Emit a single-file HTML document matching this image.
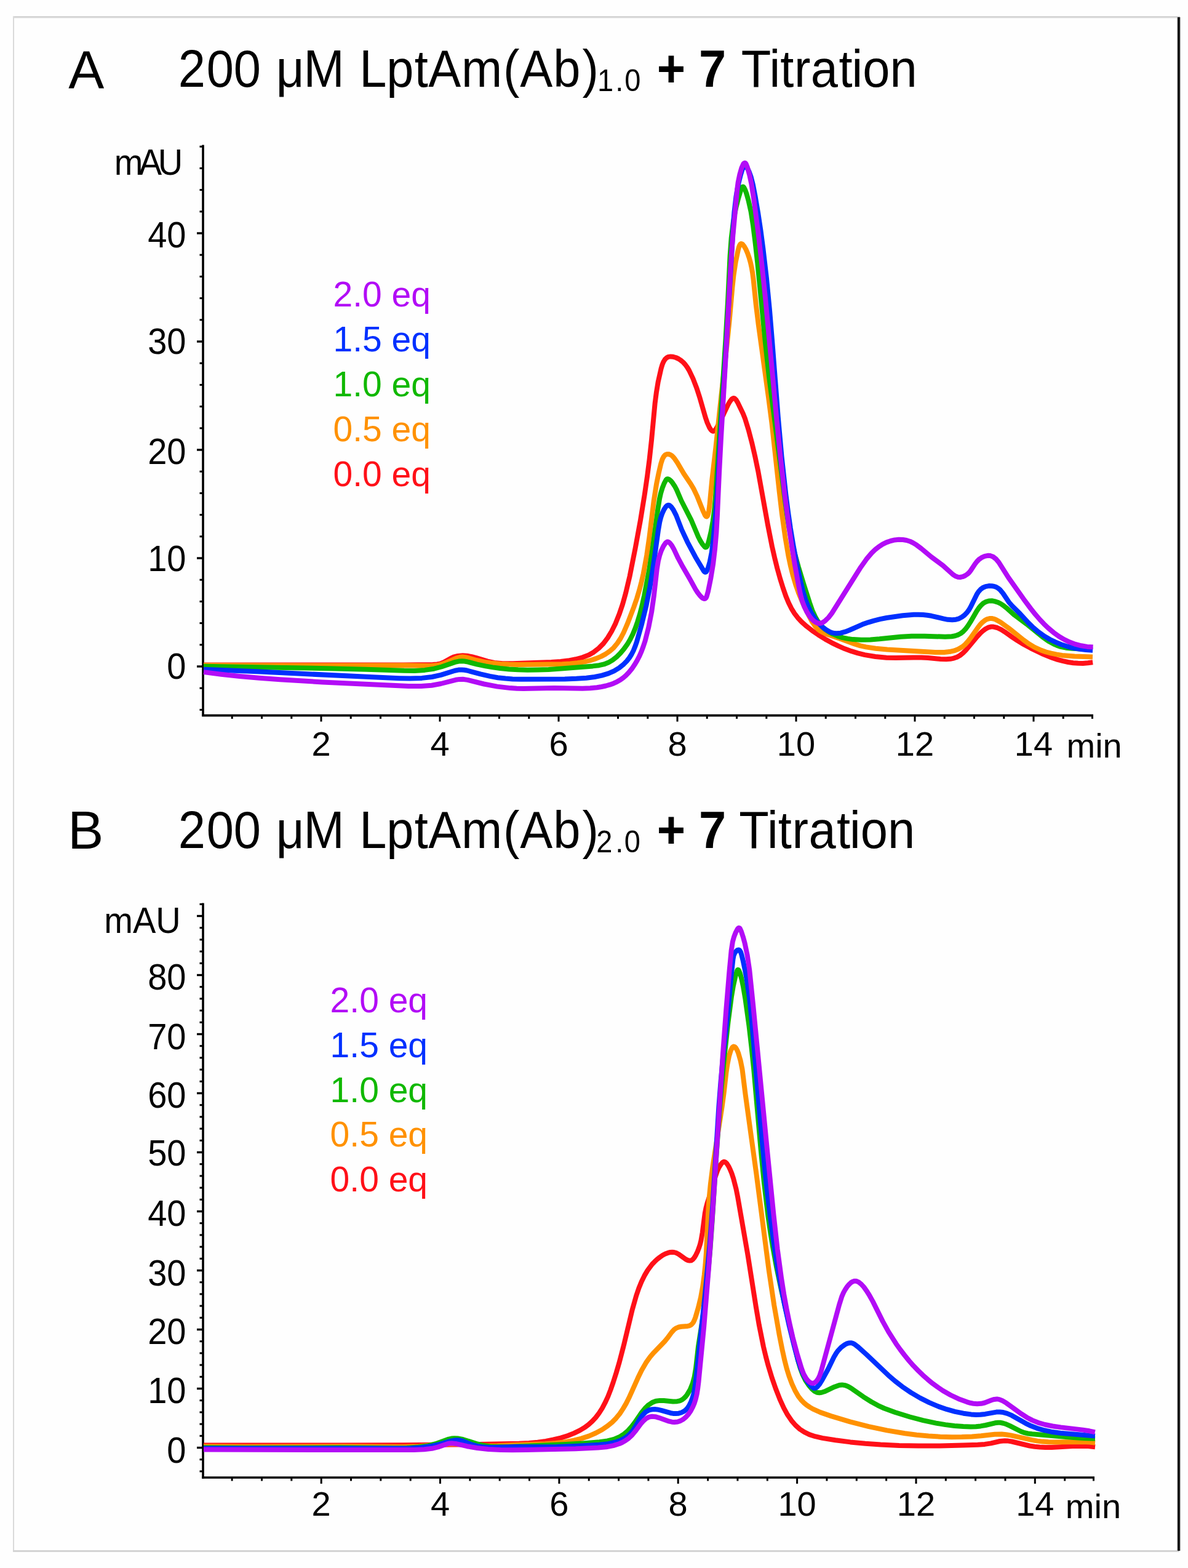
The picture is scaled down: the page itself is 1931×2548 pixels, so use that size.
<!DOCTYPE html>
<html><head><meta charset="utf-8"><style>
html,body{margin:0;padding:0;background:#fefefe;}
svg{display:block;}
text{font-family:"Liberation Sans",Arial,sans-serif;}
.t{font-size:85px;}
.sub{font-size:50px;}
.lab{font-size:56px;}
.leg{font-size:57px;}
</style></head><body>
<svg width="1931" height="2548" viewBox="0 0 1931 2548">
<rect x="0" y="0" width="1931" height="2548" fill="#fefefe"/>
<line x1="21" y1="27.5" x2="1918" y2="27.5" stroke="#c8c8c8" stroke-width="2"/>
<line x1="21" y1="29" x2="1918" y2="29" stroke="#dedede" stroke-width="1.2"/>
<line x1="22" y1="27" x2="22" y2="2522" stroke="#dadada" stroke-width="2"/>
<line x1="21" y1="2520.5" x2="1917" y2="2520.5" stroke="#d4d4d4" stroke-width="3"/>
<line x1="1916" y1="28" x2="1916" y2="2520" stroke="#6a6a6a" stroke-width="5"/><line x1="1916" y1="28" x2="1916" y2="2520" stroke="#000" stroke-width="2.8"/>
<g fill="#000">
<text x="111.3" y="144" font-size="87">A</text><g transform="scale(0.94,1)"><text x="308.3 357.2 403.9 457.4 477.5 525.0 595.7 621.6 668.4 716.8 740.6 797.8 870.3 899.3 956.7 1007.0" y="141.3" font-size="84.5">200 μM LptAm(Ab)</text><text x="1032.9 1064.2 1080.0" y="148.2" font-size="50">1.0</text><text x="1135.8 1186.2 1208.4" y="141.3" font-size="84.5" font-weight="bold">+ 7</text><text x="1281.7 1330.2 1349.3 1373.5 1402.0 1450.6 1472.9 1491.7 1538.8" y="141.3" font-size="84.5">Titration</text></g>
<text x="110.3" y="1379" font-size="87">B</text><g transform="scale(0.94,1)"><text x="308.3 357.2 403.9 457.4 477.5 525.0 595.7 621.6 668.4 716.8 740.6 797.8 870.3 899.3 956.7 1007.0" y="1377.8" font-size="84.5">200 μM LptAm(Ab)</text><text x="1031.1 1064.2 1079.4" y="1385.2" font-size="50">2.0</text><text x="1135.8 1186.2 1208.4" y="1377.8" font-size="84.5" font-weight="bold">+ 7</text><text x="1278.0 1326.5 1345.5 1369.8 1398.3 1446.9 1469.1 1487.9 1535.0" y="1377.8" font-size="84.5">Titration</text></g>
</g>
<g class="lab" fill="#000" font-size="57">
<text transform="translate(185.7 284.4) scale(1 1.045)" letter-spacing="-6.5">mAU</text>
<text transform="translate(169.3 1515.6) scale(1 1.045)">mAU</text>
<text transform="translate(302.5 1102.9) scale(1 1.045)" text-anchor="end">0</text>
<text transform="translate(302.5 928.4) scale(1 1.045)" text-anchor="end">10</text>
<text transform="translate(302.5 754.2) scale(1 1.045)" text-anchor="end">20</text>
<text transform="translate(302.5 574.9) scale(1 1.045)" text-anchor="end">30</text>
<text transform="translate(302.5 402.4) scale(1 1.045)" text-anchor="end">40</text>
<text transform="translate(302.5 2376.7) scale(1 1.045)" text-anchor="end">0</text>
<text transform="translate(302.5 2279.5) scale(1 1.045)" text-anchor="end">10</text>
<text transform="translate(302.5 2183.9) scale(1 1.045)" text-anchor="end">20</text>
<text transform="translate(302.5 2088.8) scale(1 1.045)" text-anchor="end">30</text>
<text transform="translate(302.5 1992.0) scale(1 1.045)" text-anchor="end">40</text>
<text transform="translate(302.5 1894.3) scale(1 1.045)" text-anchor="end">50</text>
<text transform="translate(302.5 1800.0) scale(1 1.045)" text-anchor="end">60</text>
<text transform="translate(302.5 1705.2) scale(1 1.045)" text-anchor="end">70</text>
<text transform="translate(302.5 1608.2) scale(1 1.045)" text-anchor="end">80</text>
<text x="522.0" y="1228" text-anchor="middle">2</text>
<text x="715.0" y="1228" text-anchor="middle">4</text>
<text x="908.0" y="1228" text-anchor="middle">6</text>
<text x="1101.0" y="1228" text-anchor="middle">8</text>
<text x="1294.0" y="1228" text-anchor="middle">10</text>
<text x="1487.0" y="1228" text-anchor="middle">12</text>
<text x="1680.0" y="1228" text-anchor="middle">14</text>
<text x="1733.5" y="1230.5">min</text>
<text x="522.2" y="2463" text-anchor="middle">2</text>
<text x="715.5" y="2463" text-anchor="middle">4</text>
<text x="908.9" y="2463" text-anchor="middle">6</text>
<text x="1102.2" y="2463" text-anchor="middle">8</text>
<text x="1295.6" y="2463" text-anchor="middle">10</text>
<text x="1489.0" y="2463" text-anchor="middle">12</text>
<text x="1682.3" y="2463" text-anchor="middle">14</text>
<text x="1731.8" y="2466.5">min</text>
</g>
<line x1="330" y1="235.5" x2="330" y2="1164.1" stroke="#000" stroke-width="3.6"/>
<line x1="328.2" y1="1162.6" x2="1777" y2="1162.6" stroke="#000" stroke-width="3.6"/>
<line x1="324.5" y1="1153.4" x2="330" y2="1153.4" stroke="#000" stroke-width="3"/>
<line x1="324.5" y1="1118.2" x2="330" y2="1118.2" stroke="#000" stroke-width="3"/>
<line x1="320" y1="1083.0" x2="330" y2="1083.0" stroke="#000" stroke-width="3.4"/>
<line x1="324.5" y1="1047.8" x2="330" y2="1047.8" stroke="#000" stroke-width="3"/>
<line x1="324.5" y1="1012.6" x2="330" y2="1012.6" stroke="#000" stroke-width="3"/>
<line x1="324.5" y1="977.4" x2="330" y2="977.4" stroke="#000" stroke-width="3"/>
<line x1="324.5" y1="942.2" x2="330" y2="942.2" stroke="#000" stroke-width="3"/>
<line x1="320" y1="907.0" x2="330" y2="907.0" stroke="#000" stroke-width="3.4"/>
<line x1="324.5" y1="871.8" x2="330" y2="871.8" stroke="#000" stroke-width="3"/>
<line x1="324.5" y1="836.6" x2="330" y2="836.6" stroke="#000" stroke-width="3"/>
<line x1="324.5" y1="801.4" x2="330" y2="801.4" stroke="#000" stroke-width="3"/>
<line x1="324.5" y1="766.2" x2="330" y2="766.2" stroke="#000" stroke-width="3"/>
<line x1="320" y1="731.0" x2="330" y2="731.0" stroke="#000" stroke-width="3.4"/>
<line x1="324.5" y1="695.8" x2="330" y2="695.8" stroke="#000" stroke-width="3"/>
<line x1="324.5" y1="660.6" x2="330" y2="660.6" stroke="#000" stroke-width="3"/>
<line x1="324.5" y1="625.4" x2="330" y2="625.4" stroke="#000" stroke-width="3"/>
<line x1="324.5" y1="590.2" x2="330" y2="590.2" stroke="#000" stroke-width="3"/>
<line x1="320" y1="555.0" x2="330" y2="555.0" stroke="#000" stroke-width="3.4"/>
<line x1="324.5" y1="519.8" x2="330" y2="519.8" stroke="#000" stroke-width="3"/>
<line x1="324.5" y1="484.6" x2="330" y2="484.6" stroke="#000" stroke-width="3"/>
<line x1="324.5" y1="449.4" x2="330" y2="449.4" stroke="#000" stroke-width="3"/>
<line x1="324.5" y1="414.2" x2="330" y2="414.2" stroke="#000" stroke-width="3"/>
<line x1="320" y1="379.0" x2="330" y2="379.0" stroke="#000" stroke-width="3.4"/>
<line x1="324.5" y1="343.8" x2="330" y2="343.8" stroke="#000" stroke-width="3"/>
<line x1="324.5" y1="308.6" x2="330" y2="308.6" stroke="#000" stroke-width="3"/>
<line x1="324.5" y1="273.4" x2="330" y2="273.4" stroke="#000" stroke-width="3"/>
<line x1="324.5" y1="238.2" x2="330" y2="238.2" stroke="#000" stroke-width="3"/>
<line x1="377.2" y1="1162.6" x2="377.2" y2="1168.1" stroke="#000" stroke-width="3"/>
<line x1="425.5" y1="1162.6" x2="425.5" y2="1168.1" stroke="#000" stroke-width="3"/>
<line x1="473.8" y1="1162.6" x2="473.8" y2="1168.1" stroke="#000" stroke-width="3"/>
<line x1="522.0" y1="1162.6" x2="522.0" y2="1172.6" stroke="#000" stroke-width="3"/>
<line x1="570.2" y1="1162.6" x2="570.2" y2="1168.1" stroke="#000" stroke-width="3"/>
<line x1="618.5" y1="1162.6" x2="618.5" y2="1168.1" stroke="#000" stroke-width="3"/>
<line x1="666.8" y1="1162.6" x2="666.8" y2="1168.1" stroke="#000" stroke-width="3"/>
<line x1="715.0" y1="1162.6" x2="715.0" y2="1172.6" stroke="#000" stroke-width="3"/>
<line x1="763.2" y1="1162.6" x2="763.2" y2="1168.1" stroke="#000" stroke-width="3"/>
<line x1="811.5" y1="1162.6" x2="811.5" y2="1168.1" stroke="#000" stroke-width="3"/>
<line x1="859.8" y1="1162.6" x2="859.8" y2="1168.1" stroke="#000" stroke-width="3"/>
<line x1="908.0" y1="1162.6" x2="908.0" y2="1172.6" stroke="#000" stroke-width="3"/>
<line x1="956.2" y1="1162.6" x2="956.2" y2="1168.1" stroke="#000" stroke-width="3"/>
<line x1="1004.5" y1="1162.6" x2="1004.5" y2="1168.1" stroke="#000" stroke-width="3"/>
<line x1="1052.8" y1="1162.6" x2="1052.8" y2="1168.1" stroke="#000" stroke-width="3"/>
<line x1="1101.0" y1="1162.6" x2="1101.0" y2="1172.6" stroke="#000" stroke-width="3"/>
<line x1="1149.2" y1="1162.6" x2="1149.2" y2="1168.1" stroke="#000" stroke-width="3"/>
<line x1="1197.5" y1="1162.6" x2="1197.5" y2="1168.1" stroke="#000" stroke-width="3"/>
<line x1="1245.8" y1="1162.6" x2="1245.8" y2="1168.1" stroke="#000" stroke-width="3"/>
<line x1="1294.0" y1="1162.6" x2="1294.0" y2="1172.6" stroke="#000" stroke-width="3"/>
<line x1="1342.2" y1="1162.6" x2="1342.2" y2="1168.1" stroke="#000" stroke-width="3"/>
<line x1="1390.5" y1="1162.6" x2="1390.5" y2="1168.1" stroke="#000" stroke-width="3"/>
<line x1="1438.8" y1="1162.6" x2="1438.8" y2="1168.1" stroke="#000" stroke-width="3"/>
<line x1="1487.0" y1="1162.6" x2="1487.0" y2="1172.6" stroke="#000" stroke-width="3"/>
<line x1="1535.2" y1="1162.6" x2="1535.2" y2="1168.1" stroke="#000" stroke-width="3"/>
<line x1="1583.5" y1="1162.6" x2="1583.5" y2="1168.1" stroke="#000" stroke-width="3"/>
<line x1="1631.8" y1="1162.6" x2="1631.8" y2="1168.1" stroke="#000" stroke-width="3"/>
<line x1="1680.0" y1="1162.6" x2="1680.0" y2="1172.6" stroke="#000" stroke-width="3"/>
<line x1="1728.2" y1="1162.6" x2="1728.2" y2="1168.1" stroke="#000" stroke-width="3"/>
<line x1="1775.5" y1="1162.6" x2="1775.5" y2="1168.1" stroke="#000" stroke-width="3"/>
<line x1="330" y1="1467.5" x2="330" y2="2402.5" stroke="#000" stroke-width="3.6"/>
<line x1="328.2" y1="2401" x2="1779" y2="2401" stroke="#000" stroke-width="3.6"/>
<line x1="324.5" y1="2390.9" x2="330" y2="2390.9" stroke="#000" stroke-width="3"/>
<line x1="324.5" y1="2371.7" x2="330" y2="2371.7" stroke="#000" stroke-width="3"/>
<line x1="320" y1="2352.5" x2="330" y2="2352.5" stroke="#000" stroke-width="3.4"/>
<line x1="324.5" y1="2333.3" x2="330" y2="2333.3" stroke="#000" stroke-width="3"/>
<line x1="324.5" y1="2314.1" x2="330" y2="2314.1" stroke="#000" stroke-width="3"/>
<line x1="324.5" y1="2294.9" x2="330" y2="2294.9" stroke="#000" stroke-width="3"/>
<line x1="324.5" y1="2275.7" x2="330" y2="2275.7" stroke="#000" stroke-width="3"/>
<line x1="320" y1="2256.5" x2="330" y2="2256.5" stroke="#000" stroke-width="3.4"/>
<line x1="324.5" y1="2237.3" x2="330" y2="2237.3" stroke="#000" stroke-width="3"/>
<line x1="324.5" y1="2218.1" x2="330" y2="2218.1" stroke="#000" stroke-width="3"/>
<line x1="324.5" y1="2198.9" x2="330" y2="2198.9" stroke="#000" stroke-width="3"/>
<line x1="324.5" y1="2179.7" x2="330" y2="2179.7" stroke="#000" stroke-width="3"/>
<line x1="320" y1="2160.5" x2="330" y2="2160.5" stroke="#000" stroke-width="3.4"/>
<line x1="324.5" y1="2141.3" x2="330" y2="2141.3" stroke="#000" stroke-width="3"/>
<line x1="324.5" y1="2122.1" x2="330" y2="2122.1" stroke="#000" stroke-width="3"/>
<line x1="324.5" y1="2102.9" x2="330" y2="2102.9" stroke="#000" stroke-width="3"/>
<line x1="324.5" y1="2083.7" x2="330" y2="2083.7" stroke="#000" stroke-width="3"/>
<line x1="320" y1="2064.5" x2="330" y2="2064.5" stroke="#000" stroke-width="3.4"/>
<line x1="324.5" y1="2045.3" x2="330" y2="2045.3" stroke="#000" stroke-width="3"/>
<line x1="324.5" y1="2026.1" x2="330" y2="2026.1" stroke="#000" stroke-width="3"/>
<line x1="324.5" y1="2006.9" x2="330" y2="2006.9" stroke="#000" stroke-width="3"/>
<line x1="324.5" y1="1987.7" x2="330" y2="1987.7" stroke="#000" stroke-width="3"/>
<line x1="320" y1="1968.5" x2="330" y2="1968.5" stroke="#000" stroke-width="3.4"/>
<line x1="324.5" y1="1949.3" x2="330" y2="1949.3" stroke="#000" stroke-width="3"/>
<line x1="324.5" y1="1930.1" x2="330" y2="1930.1" stroke="#000" stroke-width="3"/>
<line x1="324.5" y1="1910.9" x2="330" y2="1910.9" stroke="#000" stroke-width="3"/>
<line x1="324.5" y1="1891.7" x2="330" y2="1891.7" stroke="#000" stroke-width="3"/>
<line x1="320" y1="1872.5" x2="330" y2="1872.5" stroke="#000" stroke-width="3.4"/>
<line x1="324.5" y1="1853.3" x2="330" y2="1853.3" stroke="#000" stroke-width="3"/>
<line x1="324.5" y1="1834.1" x2="330" y2="1834.1" stroke="#000" stroke-width="3"/>
<line x1="324.5" y1="1814.9" x2="330" y2="1814.9" stroke="#000" stroke-width="3"/>
<line x1="324.5" y1="1795.7" x2="330" y2="1795.7" stroke="#000" stroke-width="3"/>
<line x1="320" y1="1776.5" x2="330" y2="1776.5" stroke="#000" stroke-width="3.4"/>
<line x1="324.5" y1="1757.3" x2="330" y2="1757.3" stroke="#000" stroke-width="3"/>
<line x1="324.5" y1="1738.1" x2="330" y2="1738.1" stroke="#000" stroke-width="3"/>
<line x1="324.5" y1="1718.9" x2="330" y2="1718.9" stroke="#000" stroke-width="3"/>
<line x1="324.5" y1="1699.7" x2="330" y2="1699.7" stroke="#000" stroke-width="3"/>
<line x1="320" y1="1680.5" x2="330" y2="1680.5" stroke="#000" stroke-width="3.4"/>
<line x1="324.5" y1="1661.3" x2="330" y2="1661.3" stroke="#000" stroke-width="3"/>
<line x1="324.5" y1="1642.1" x2="330" y2="1642.1" stroke="#000" stroke-width="3"/>
<line x1="324.5" y1="1622.9" x2="330" y2="1622.9" stroke="#000" stroke-width="3"/>
<line x1="324.5" y1="1603.7" x2="330" y2="1603.7" stroke="#000" stroke-width="3"/>
<line x1="320" y1="1584.5" x2="330" y2="1584.5" stroke="#000" stroke-width="3.4"/>
<line x1="324.5" y1="1565.3" x2="330" y2="1565.3" stroke="#000" stroke-width="3"/>
<line x1="324.5" y1="1546.1" x2="330" y2="1546.1" stroke="#000" stroke-width="3"/>
<line x1="324.5" y1="1526.9" x2="330" y2="1526.9" stroke="#000" stroke-width="3"/>
<line x1="324.5" y1="1507.7" x2="330" y2="1507.7" stroke="#000" stroke-width="3"/>
<line x1="320" y1="1488.5" x2="330" y2="1488.5" stroke="#000" stroke-width="3.4"/>
<line x1="324.5" y1="1469.3" x2="330" y2="1469.3" stroke="#000" stroke-width="3"/>
<line x1="377.1" y1="2401" x2="377.1" y2="2406.5" stroke="#000" stroke-width="3"/>
<line x1="425.5" y1="2401" x2="425.5" y2="2406.5" stroke="#000" stroke-width="3"/>
<line x1="473.8" y1="2401" x2="473.8" y2="2406.5" stroke="#000" stroke-width="3"/>
<line x1="522.2" y1="2401" x2="522.2" y2="2411" stroke="#000" stroke-width="3"/>
<line x1="570.5" y1="2401" x2="570.5" y2="2406.5" stroke="#000" stroke-width="3"/>
<line x1="618.8" y1="2401" x2="618.8" y2="2406.5" stroke="#000" stroke-width="3"/>
<line x1="667.2" y1="2401" x2="667.2" y2="2406.5" stroke="#000" stroke-width="3"/>
<line x1="715.5" y1="2401" x2="715.5" y2="2411" stroke="#000" stroke-width="3"/>
<line x1="763.9" y1="2401" x2="763.9" y2="2406.5" stroke="#000" stroke-width="3"/>
<line x1="812.2" y1="2401" x2="812.2" y2="2406.5" stroke="#000" stroke-width="3"/>
<line x1="860.5" y1="2401" x2="860.5" y2="2406.5" stroke="#000" stroke-width="3"/>
<line x1="908.9" y1="2401" x2="908.9" y2="2411" stroke="#000" stroke-width="3"/>
<line x1="957.2" y1="2401" x2="957.2" y2="2406.5" stroke="#000" stroke-width="3"/>
<line x1="1005.6" y1="2401" x2="1005.6" y2="2406.5" stroke="#000" stroke-width="3"/>
<line x1="1053.9" y1="2401" x2="1053.9" y2="2406.5" stroke="#000" stroke-width="3"/>
<line x1="1102.2" y1="2401" x2="1102.2" y2="2411" stroke="#000" stroke-width="3"/>
<line x1="1150.6" y1="2401" x2="1150.6" y2="2406.5" stroke="#000" stroke-width="3"/>
<line x1="1198.9" y1="2401" x2="1198.9" y2="2406.5" stroke="#000" stroke-width="3"/>
<line x1="1247.3" y1="2401" x2="1247.3" y2="2406.5" stroke="#000" stroke-width="3"/>
<line x1="1295.6" y1="2401" x2="1295.6" y2="2411" stroke="#000" stroke-width="3"/>
<line x1="1343.9" y1="2401" x2="1343.9" y2="2406.5" stroke="#000" stroke-width="3"/>
<line x1="1392.3" y1="2401" x2="1392.3" y2="2406.5" stroke="#000" stroke-width="3"/>
<line x1="1440.6" y1="2401" x2="1440.6" y2="2406.5" stroke="#000" stroke-width="3"/>
<line x1="1489.0" y1="2401" x2="1489.0" y2="2411" stroke="#000" stroke-width="3"/>
<line x1="1537.3" y1="2401" x2="1537.3" y2="2406.5" stroke="#000" stroke-width="3"/>
<line x1="1585.6" y1="2401" x2="1585.6" y2="2406.5" stroke="#000" stroke-width="3"/>
<line x1="1634.0" y1="2401" x2="1634.0" y2="2406.5" stroke="#000" stroke-width="3"/>
<line x1="1682.3" y1="2401" x2="1682.3" y2="2411" stroke="#000" stroke-width="3"/>
<line x1="1730.7" y1="2401" x2="1730.7" y2="2406.5" stroke="#000" stroke-width="3"/>
<line x1="1777.5" y1="2401" x2="1777.5" y2="2406.5" stroke="#000" stroke-width="3"/>
<g font-size="57">
<text x="541.5" y="497.8" fill="#B20CF6">2.0 eq</text>
<text x="541.5" y="570.8" fill="#0030FF">1.5 eq</text>
<text x="541.5" y="643.8" fill="#10B800">1.0 eq</text>
<text x="541.5" y="716.8" fill="#FF9100">0.5 eq</text>
<text x="541.5" y="789.8" fill="#FF1018">0.0 eq</text>
<text x="536.6" y="1645.0" fill="#B20CF6">2.0 eq</text>
<text x="536.6" y="1717.8" fill="#0030FF">1.5 eq</text>
<text x="536.6" y="1790.6" fill="#10B800">1.0 eq</text>
<text x="536.6" y="1863.4" fill="#FF9100">0.5 eq</text>
<text x="536.6" y="1936.2" fill="#FF1018">0.0 eq</text>
</g>
<g fill="none" stroke-width="8" stroke-linejoin="round" stroke-linecap="butt">
<path d="M331 1080.5 L655.2 1080.6 L703.4 1080.1 L710.5 1079.5 L716.3 1078.3 L721.2 1076.3 L732 1070.1 L737.2 1067.7 L744.2 1065.9 L752.1 1065.2 L759.2 1065.7 L766.8 1067.1 L774.3 1069.1 L792.7 1074.6 L803.4 1077.0 L816.7 1078.3 L833.3 1078.3 L896.1 1076.0 L911.1 1074.9 L923.3 1073.6 L935.7 1071.3 L946.9 1068.3 L956.8 1064.4 L965.1 1059.7 L973.2 1053.4 L980.9 1045.6 L987.8 1036.4 L994.2 1025.8 L1000.5 1013.1 L1006.5 998.1 L1012.1 981.6 L1017.1 963.7 L1023.7 935.8 L1032.7 890.5 L1041 845.3 L1047.8 803.4 L1052 774.5 L1055.6 746.4 L1059 715.3 L1064.6 655.6 L1067 637.1 L1069.7 620.6 L1074.6 598.9 L1076.4 592.8 L1078.4 588.0 L1080.7 584.2 L1083.4 581.5 L1086.4 579.9 L1090 579.4 L1094.1 579.8 L1098.4 581.0 L1102.8 583.0 L1106.7 585.6 L1110.5 588.8 L1113.9 592.5 L1117.1 596.9 L1120.1 601.9 L1126.4 615.1 L1132.5 631.0 L1137.6 646.8 L1146.6 678.1 L1149.5 686.6 L1153.4 695.3 L1155.4 698.3 L1157.3 700.1 L1159 700.8 L1160.6 700.4 L1162.5 698.7 L1164.5 695.9 L1170.4 685.0 L1183.3 657.9 L1186.1 652.9 L1188.7 649.4 L1190.2 647.9 L1191.5 647.2 L1192.8 647.0 L1193.8 647.3 L1196.2 649.4 L1198.9 653.8 L1207.7 672.1 L1211.1 680.6 L1216.7 698.7 L1222.4 720.6 L1227.3 741.9 L1232.3 765.9 L1248 853.0 L1254.9 887.9 L1259.1 906.4 L1263.4 923.7 L1268 940.2 L1272.9 955.9 L1277.4 968.9 L1281.8 979.5 L1286.3 988.6 L1291.4 996.8 L1296.8 1003.9 L1303.4 1010.9 L1311 1017.7 L1320 1024.7 L1330.4 1031.8 L1341 1038.4 L1351.6 1044.3 L1362.5 1049.7 L1373.2 1054.3 L1383.9 1058.2 L1394.4 1061.4 L1405.5 1064.1 L1422.8 1067.0 L1440.9 1068.7 L1455.9 1069.1 L1484.9 1068.4 L1497.4 1068.5 L1508.3 1069.0 L1528.8 1071.0 L1538 1071.3 L1544.6 1070.8 L1550.5 1069.6 L1555.7 1067.7 L1560.5 1065.0 L1565.3 1061.2 L1570 1056.5 L1588.3 1034.4 L1593 1029.4 L1597.1 1025.6 L1601.9 1022.0 L1606.3 1019.7 L1610.5 1018.6 L1614.8 1018.6 L1620.7 1020.0 L1627.4 1023.2 L1633.2 1026.8 L1646.1 1036.0 L1653.6 1040.9 L1663.3 1046.7 L1675.4 1053.3 L1693.7 1062.2 L1710.4 1069.0 L1719 1071.9 L1727.7 1074.2 L1736.2 1076.0 L1744.4 1077.2 L1752.3 1077.8 L1760.3 1077.9 L1768.4 1077.3 L1776.2 1076.3" stroke="#FF1018"/>
<path d="M331 1081.1 L554.2 1081.5 L659 1081.2 L700.4 1082.1 L709.4 1081.3 L717.3 1079.6 L723.9 1077.3 L741.4 1069.6 L747 1068.1 L751.7 1067.6 L755.2 1067.9 L758.7 1068.5 L774.5 1073.0 L787 1075.7 L799.9 1077.6 L813.4 1078.9 L826.9 1079.6 L842.7 1079.9 L913.7 1079.2 L926.8 1078.5 L938.5 1077.3 L949.2 1075.6 L959.4 1073.2 L968.9 1070.1 L977.3 1066.6 L984.8 1062.6 L991.3 1058.0 L997.6 1052.4 L1003.3 1045.5 L1008.6 1037.5 L1013.6 1028.0 L1019.6 1014.2 L1030.2 986.6 L1035.1 972.5 L1039.3 958.4 L1042.6 945.7 L1045.7 932.3 L1051.2 902.4 L1055.4 873.3 L1062.7 814.0 L1067.2 785.7 L1070.6 769.1 L1074.3 753.4 L1076.6 746.2 L1079.1 741.5 L1081 739.5 L1082.9 738.3 L1084.8 737.9 L1087.2 738.1 L1089.8 739.0 L1092 740.4 L1094.3 742.6 L1096.5 745.3 L1101.1 752.0 L1111.5 769.8 L1122.8 786.5 L1127.4 794.3 L1132.8 805.6 L1143 830.9 L1146 837.2 L1147.4 839.0 L1148.6 839.5 L1149.8 838.6 L1150.8 836.3 L1152.1 830.5 L1153.3 822.1 L1157.3 779.9 L1163.4 727.4 L1172.2 644.6 L1182.3 553.6 L1185.8 518.7 L1190.4 466.7 L1192.5 447.1 L1195.7 426.0 L1199.6 407.1 L1201 401.7 L1202.2 398.5 L1203.5 396.6 L1204.8 396.0 L1205.9 396.3 L1207 397.1 L1209.6 400.3 L1212.5 405.3 L1215.2 411.6 L1217.7 418.9 L1219.9 426.7 L1221.7 434.8 L1223.1 443.0 L1224.6 454.3 L1228.8 495.0 L1232.7 527.1 L1249.1 645.9 L1254.5 687.5 L1266.8 799.5 L1270.9 834.6 L1276.3 872.8 L1281.4 902.9 L1285 919.8 L1289 935.7 L1293.4 950.4 L1298.2 964.0 L1305.4 981.1 L1313.9 998.9 L1320.3 1010.8 L1325.8 1018.6 L1329.1 1022.1 L1332.9 1025.1 L1337.4 1027.7 L1342.7 1030.1 L1363.7 1037.3 L1389.7 1046.7 L1398.4 1049.3 L1407.6 1051.4 L1423.3 1053.8 L1442.3 1055.5 L1520 1059.9 L1534.6 1060.0 L1543.4 1059.1 L1551 1057.4 L1557.8 1054.8 L1563.8 1051.3 L1568.7 1047.3 L1573.5 1042.0 L1578.4 1035.6 L1589.9 1019.2 L1593.4 1014.8 L1596.7 1011.4 L1600.5 1008.3 L1604.5 1006.1 L1608.4 1005.1 L1612.2 1005.0 L1615 1005.6 L1618.4 1006.8 L1626.1 1011.0 L1640.2 1021.2 L1663.7 1040.0 L1671.5 1045.8 L1681.7 1051.9 L1692.8 1056.9 L1700.4 1059.5 L1708.7 1061.7 L1717.1 1063.4 L1726.5 1064.9 L1746.6 1066.6 L1776 1067.5" stroke="#FF9100"/>
<path d="M331 1082.8 L534.7 1086.2 L595.4 1087.7 L656.8 1089.8 L673.9 1089.9 L690.4 1088.9 L705.4 1086.7 L717.7 1083.5 L739.8 1075.9 L745.8 1074.6 L750.9 1074.2 L754.7 1074.5 L758.9 1075.2 L775.8 1079.6 L789.2 1082.4 L800.8 1084.4 L812.9 1086.0 L827.5 1087.4 L842.2 1088.3 L857.4 1088.7 L873.5 1088.5 L891.6 1087.9 L912.1 1086.6 L963.5 1082.4 L973.7 1081.2 L981.7 1079.4 L989 1076.6 L995.7 1072.6 L1002.4 1067.3 L1008.4 1061.4 L1014.1 1054.7 L1019.5 1047.2 L1024.2 1039.2 L1028.6 1030.5 L1032.6 1020.9 L1036.3 1010.2 L1039.9 998.4 L1043.5 984.6 L1047.2 967.8 L1055 927.1 L1060.8 890.0 L1069.7 824.9 L1072 810.7 L1074 801.6 L1076.5 793.3 L1079.6 785.4 L1082.7 779.7 L1083.7 778.6 L1084.9 778.2 L1086.3 778.4 L1088.2 779.5 L1090.6 781.6 L1092.8 784.2 L1097 790.5 L1099.8 795.9 L1107.6 814.0 L1123.4 844.8 L1135.1 872.5 L1138.4 878.8 L1141.9 884.5 L1145.5 888.7 L1146.8 889.4 L1147.8 889.2 L1148.9 888.2 L1149.8 886.6 L1152 879.4 L1155.7 863.9 L1158.7 847.1 L1161.1 829.4 L1162.9 808.9 L1179.5 551.6 L1183.1 488.4 L1186.6 415.6 L1188.8 385.9 L1192 360.1 L1194 348.5 L1196.4 336.9 L1199.8 323.4 L1203.7 310.3 L1205.7 305.2 L1206.6 303.9 L1207.6 303.4 L1208.3 303.6 L1209.3 304.7 L1211.3 308.7 L1213.6 315.4 L1216.5 325.7 L1220.6 343.8 L1224 365.6 L1227.7 395.3 L1231.4 428.3 L1244 557.5 L1250 612.3 L1276.2 815.6 L1279.1 836.6 L1282 854.5 L1286.2 876.0 L1291.3 897.7 L1297.9 921.6 L1306.6 950.2 L1315.9 979.3 L1320.4 992.1 L1325.8 1003.6 L1328.7 1008.6 L1331.7 1012.9 L1336.3 1018.3 L1341.3 1022.8 L1347.3 1026.9 L1353.7 1030.4 L1361.4 1033.6 L1369.2 1036.1 L1377.8 1037.9 L1386.5 1039.1 L1399.8 1039.8 L1414.7 1039.4 L1429.5 1038.3 L1464 1034.8 L1481.9 1033.8 L1502.8 1033.7 L1536.2 1034.7 L1547 1034.2 L1552.5 1033.2 L1557.2 1031.6 L1561.3 1029.5 L1565.3 1026.5 L1569.3 1022.3 L1573.2 1017.1 L1577.2 1010.9 L1587.6 992.9 L1591 987.9 L1594.4 983.9 L1598.3 980.3 L1602.8 977.8 L1607.2 976.5 L1612.2 976.3 L1616.7 977.1 L1621.7 978.7 L1626.5 981.0 L1630.8 983.8 L1635.9 987.8 L1648.9 999.4 L1670.4 1015.4 L1694.1 1034.7 L1704 1041.7 L1712.8 1046.6 L1717.6 1048.7 L1722.6 1050.5 L1732.6 1052.7 L1742.6 1053.7 L1766.2 1054.9 L1775.9 1056.2" stroke="#10B800"/>
<path d="M331 1087.8 L418.2 1091.3 L611.2 1100.6 L649.3 1102.2 L666.5 1102.6 L685.7 1101.9 L702.2 1100.0 L716.5 1096.9 L739.4 1089.7 L745.3 1088.6 L750.7 1088.4 L754.7 1088.7 L759.1 1089.5 L781 1095.4 L796.3 1098.9 L809.1 1101.2 L821.6 1102.6 L833.2 1103.4 L847 1103.8 L918 1103.4 L936.7 1102.8 L953 1101.7 L966.7 1100.0 L978.2 1097.6 L988.9 1094.4 L998.1 1090.3 L1006.3 1085.3 L1013.8 1079.3 L1018.8 1074.2 L1022.9 1069.0 L1026.4 1063.5 L1029.6 1057.2 L1032.3 1050.6 L1035 1042.9 L1042.7 1015.7 L1050.2 985.1 L1056.4 954.0 L1061.1 925.1 L1070.1 860.8 L1072.2 848.5 L1074.1 841.0 L1076.4 834.2 L1079.3 828.0 L1082.3 823.4 L1083.9 821.9 L1085.1 821.1 L1086.4 820.8 L1088.1 821.2 L1091 823.6 L1094.4 828.4 L1099 837.4 L1108.1 860.9 L1117.4 880.8 L1130.4 905.2 L1144.1 928.1 L1145.2 929.3 L1146.4 929.8 L1147.5 929.4 L1148.7 927.9 L1151 922.6 L1153.7 913.0 L1156.8 897.6 L1159.4 877.1 L1162.6 842.5 L1165.8 800.2 L1185.7 474.0 L1191.8 367.2 L1193.4 345.5 L1196.4 319.6 L1198.4 307.8 L1200.8 296.4 L1203.8 284.4 L1206.6 275.2 L1208.7 271.1 L1209.7 270.1 L1210.6 269.9 L1212.1 270.5 L1214 272.5 L1215.8 275.3 L1217.7 279.3 L1220.7 287.7 L1223.8 299.7 L1227.4 318.2 L1232.3 347.0 L1236.5 374.9 L1240.4 404.5 L1245.9 451.8 L1251 504.4 L1255.2 555.0 L1264.8 678.1 L1270.5 741.7 L1277.3 803.5 L1281 832.0 L1284.8 858.4 L1289.5 886.4 L1294.4 913.0 L1300.3 940.7 L1305 960.4 L1309.2 974.2 L1313.7 986.0 L1318.8 996.3 L1324.6 1005.4 L1328.9 1010.9 L1333.3 1015.6 L1337.8 1019.7 L1342.6 1023.3 L1346.9 1025.8 L1351.3 1027.8 L1355.9 1029.0 L1360.1 1029.3 L1366.4 1028.7 L1373.7 1026.7 L1380.7 1024.0 L1402 1014.6 L1411.4 1011.3 L1420.6 1008.6 L1430.4 1006.2 L1441.1 1004.0 L1467.2 1000.2 L1485.3 998.8 L1492.9 998.7 L1500.5 999.0 L1507.2 999.7 L1513.9 1000.8 L1533.4 1005.4 L1540.4 1006.8 L1547.7 1007.3 L1553.8 1006.7 L1558.7 1005.3 L1563.4 1002.8 L1567.8 999.5 L1572.1 994.9 L1575 991.0 L1577.7 986.3 L1587.9 965.5 L1590.6 961.4 L1593.8 957.8 L1597.6 955.0 L1601.9 953.1 L1607.3 952.1 L1612.3 952.2 L1616.2 952.9 L1619.4 954.1 L1622.4 955.9 L1625.5 958.4 L1630.2 964.0 L1639.7 978.3 L1645.4 984.8 L1658.1 997.4 L1671.6 1012.1 L1678.2 1018.7 L1687.4 1026.6 L1697.8 1033.9 L1706.4 1039.0 L1715.5 1043.4 L1724.8 1047.2 L1734.9 1050.5 L1744.7 1053.0 L1755.2 1054.9 L1765.3 1056.1 L1776.1 1056.7" stroke="#0030FF"/>
<path d="M331 1092.1 L359.5 1095.7 L389.7 1098.9 L421.4 1101.7 L455.3 1104.3 L524.2 1108.4 L664.2 1115.1 L684.5 1115.0 L701.6 1113.7 L716.6 1111.0 L740.6 1104.8 L746.7 1103.9 L752.3 1103.8 L760 1104.9 L786.6 1111.5 L808.3 1115.6 L829.5 1118.1 L839.9 1118.8 L850.8 1119.0 L900.9 1118.1 L946.8 1118.7 L959.3 1118.2 L970.2 1117.2 L977.8 1116.0 L984.8 1114.5 L991.2 1112.7 L997.4 1110.4 L1003 1107.8 L1008.3 1104.8 L1012.9 1101.5 L1017.3 1097.7 L1022.1 1092.7 L1026.9 1086.9 L1031.2 1080.6 L1035.4 1073.7 L1039.3 1066.2 L1042.6 1058.6 L1045.6 1050.5 L1048.6 1041.4 L1054.2 1019.6 L1059.1 994.6 L1062.9 967.9 L1067.8 924.5 L1069.9 911.6 L1072.2 902.5 L1074.9 894.7 L1078.5 887.3 L1082.1 882.0 L1084.3 880.5 L1085.3 880.3 L1086.6 880.7 L1089 882.6 L1092 886.5 L1095.1 891.9 L1102.3 907.2 L1108.5 918.7 L1121.1 940.6 L1130.8 958.1 L1134.2 963.3 L1137.7 967.7 L1140.3 970.5 L1142.6 972.3 L1144.7 973.1 L1146.1 972.9 L1147.5 971.6 L1148.6 969.4 L1151 960.9 L1155.4 939.2 L1159.2 916.0 L1162.1 891.5 L1164.4 864.9 L1165.9 837.9 L1169 768.7 L1171.9 712.8 L1180.7 562.2 L1187 444.1 L1189.1 411.6 L1191.3 382.6 L1198.1 308.8 L1199.7 296.2 L1202.2 284.2 L1205.4 272.9 L1208.2 266.6 L1209.6 265.1 L1210.6 264.7 L1211.7 265.2 L1212.7 266.5 L1214.9 272.0 L1218.4 284.9 L1221.3 298.4 L1225.3 323.8 L1232.6 379.5 L1238.5 431.3 L1244.5 488.9 L1262.1 678.1 L1268.3 740.6 L1275.4 803.5 L1282.8 859.4 L1287.2 888.8 L1291.8 917.1 L1297.2 946.8 L1301 965.7 L1303.8 976.3 L1307.3 985.8 L1311.3 994.1 L1316.1 1001.7 L1319.2 1005.6 L1322.6 1009.0 L1325.8 1011.2 L1328.7 1012.5 L1331.8 1013.0 L1334.8 1012.5 L1337.9 1011.1 L1341.4 1008.7 L1346.7 1003.5 L1352.1 996.5 L1399.1 921.7 L1408.3 908.7 L1416.8 898.6 L1422.5 893.2 L1428.6 888.3 L1434.7 884.4 L1440.8 881.4 L1447.7 879.0 L1454.3 877.4 L1461 876.8 L1467.6 877.0 L1473.6 878.0 L1479 879.7 L1484.1 882.2 L1489.9 885.7 L1497.3 891.2 L1513.8 905.0 L1533 919.2 L1548.7 933.4 L1553 936.3 L1557.2 937.8 L1560.6 938.0 L1564.6 937.2 L1568.6 935.5 L1572.7 932.7 L1575.4 930.2 L1577.7 927.3 L1584.9 916.4 L1587.8 912.6 L1591.2 909.1 L1595.4 906.2 L1600.5 903.9 L1605.6 902.8 L1609.9 903.1 L1614.2 904.8 L1618.7 908.2 L1623.5 913.8 L1639 938.4 L1663.7 973.3 L1675.4 989.0 L1682.7 998.2 L1689.9 1006.5 L1696.8 1013.8 L1703.9 1020.6 L1712.6 1027.9 L1721.4 1034.2 L1730.1 1039.4 L1738.9 1043.6 L1748.1 1046.9 L1757.4 1049.3 L1767 1050.9 L1776.6 1051.5" stroke="#B20CF6"/>
<path d="M331 2348.5 L550.6 2348.5 L656.3 2348.2 L765.8 2347.3 L843.5 2345.8 L859.6 2345.0 L873.9 2343.7 L887.1 2341.9 L899.4 2339.5 L911.4 2336.6 L922.9 2333.0 L933.2 2328.9 L942.4 2324.4 L949.9 2319.9 L956.6 2315.0 L962.7 2309.5 L968.3 2303.5 L973.7 2296.3 L978.8 2288.4 L983.4 2279.7 L988.1 2269.6 L992.3 2258.9 L996.6 2246.6 L1001.6 2231.0 L1006.4 2214.7 L1014.4 2184.1 L1027.7 2128.4 L1034.2 2105.5 L1038.4 2093.2 L1042.8 2082.5 L1047.5 2072.9 L1052.7 2064.1 L1060 2054.4 L1064.1 2050.2 L1068.1 2046.4 L1072.5 2043.0 L1077.1 2039.8 L1081.4 2037.5 L1085.6 2035.9 L1089.2 2035.0 L1092.5 2034.7 L1095.8 2035.0 L1098.8 2035.8 L1103.4 2038.2 L1114.9 2046.5 L1118.2 2048.0 L1121 2048.6 L1123.5 2048.3 L1126 2046.7 L1128.4 2043.9 L1131 2039.6 L1133.7 2034.0 L1135.9 2028.3 L1137.9 2022.2 L1139.5 2015.7 L1141.7 2003.1 L1145.8 1971.6 L1147.5 1963.1 L1149.6 1955.1 L1156.5 1934.3 L1162.6 1912.4 L1165.9 1902.9 L1168.7 1896.9 L1172 1891.6 L1174.7 1888.6 L1176.9 1887.7 L1179.1 1888.5 L1181.5 1890.9 L1184.2 1895.1 L1186.7 1900.2 L1189.4 1906.8 L1192.1 1915.0 L1196.5 1931.9 L1199.2 1945.6 L1215.6 2040.0 L1228.8 2123.7 L1233.8 2152.9 L1241 2188.6 L1244.9 2204.9 L1249 2220.2 L1254.7 2238.9 L1260.9 2256.8 L1267.7 2274.1 L1274.1 2288.1 L1280.1 2299.1 L1286.4 2308.3 L1293 2316.0 L1300.2 2322.5 L1307.4 2327.2 L1315.5 2331.1 L1325 2334.2 L1336.7 2336.9 L1357.9 2340.3 L1382.2 2343.4 L1406.5 2345.8 L1431.4 2347.6 L1461.5 2349.0 L1493.4 2349.6 L1527.7 2349.5 L1565.6 2348.6 L1589.1 2347.8 L1600.7 2346.9 L1610.7 2345.4 L1625.2 2342.0 L1633.3 2341.3 L1638.8 2341.6 L1644.6 2342.5 L1673.7 2349.5 L1681.7 2350.8 L1690.1 2351.6 L1699.2 2352.0 L1709.4 2351.9 L1743.5 2350.0 L1756.1 2349.7 L1768.8 2350.0 L1780 2351.2" stroke="#FF1018"/>
<path d="M331 2350.3 L399.4 2350.7 L558.8 2350.3 L655.6 2351.1 L681 2350.3 L715.6 2347.1 L729.3 2346.3 L743 2346.6 L776.6 2349.0 L793.1 2349.4 L807.9 2349.2 L840.9 2347.7 L886.2 2346.2 L903.3 2345.0 L918.6 2343.2 L932.5 2340.7 L944.9 2337.6 L957.1 2333.6 L968.3 2328.8 L978.6 2323.2 L987.9 2316.9 L995 2311.1 L1001.4 2304.6 L1007.4 2297.2 L1012.9 2288.9 L1017.6 2280.9 L1022.2 2271.8 L1036.8 2239.3 L1042.9 2226.7 L1050 2214.4 L1057.2 2204.3 L1063 2197.7 L1080.3 2179.9 L1084.5 2174.8 L1091.7 2165.0 L1095.8 2160.6 L1099.3 2158.1 L1103.3 2156.5 L1107.4 2155.7 L1117.7 2154.9 L1120.4 2154.3 L1122.4 2153.4 L1124.6 2151.8 L1126.7 2149.3 L1128.4 2145.9 L1130.3 2141.0 L1135 2125.0 L1139 2108.5 L1142.2 2090.7 L1144.8 2071.5 L1146.5 2054.7 L1147.9 2036.1 L1151 1972.9 L1152.5 1948.6 L1154.9 1923.9 L1158.4 1896.1 L1173.7 1798.0 L1176.8 1774.8 L1180.3 1743.5 L1182.4 1729.2 L1184.9 1716.6 L1187.6 1707.5 L1190.1 1702.4 L1191.4 1701.1 L1192.8 1700.6 L1194.5 1701.3 L1196.3 1703.3 L1198.1 1706.4 L1199.9 1710.7 L1203.6 1723.3 L1206.6 1738.4 L1211.5 1777.7 L1229.3 1906.8 L1249.8 2064.5 L1258.2 2120.6 L1266.8 2169.5 L1271.4 2192.7 L1275.4 2210.8 L1278.9 2224.4 L1282.6 2236.4 L1287.3 2248.8 L1292.6 2260.3 L1297.6 2269.0 L1302.9 2275.7 L1306.8 2279.6 L1311 2283.1 L1315.8 2286.4 L1321.3 2289.6 L1333.6 2295.1 L1350.9 2301.1 L1381.7 2310.3 L1412 2318.1 L1441.7 2324.4 L1470.8 2329.3 L1490 2331.8 L1509.3 2333.6 L1528.3 2334.7 L1546.8 2335.2 L1563.4 2335.1 L1579.7 2334.5 L1594.6 2333.3 L1616.8 2330.8 L1628.3 2330.6 L1635.3 2331.2 L1642.8 2332.4 L1677.8 2340.1 L1686.2 2341.6 L1694.6 2342.6 L1704.3 2343.2 L1714.8 2343.5 L1760.2 2343.1 L1770.7 2343.6 L1780 2344.4" stroke="#FF9100"/>
<path d="M331 2352.3 L399.5 2352.7 L552.1 2352.3 L641.5 2353.1 L661.3 2352.8 L680 2351.5 L696.3 2349.1 L710.1 2345.5 L729.3 2338.6 L734 2337.6 L738.6 2337.2 L745 2337.6 L752.3 2339.0 L776.2 2346.5 L785.5 2348.8 L796.2 2350.4 L808.4 2351.1 L825.6 2350.9 L919.8 2346.9 L950.1 2345.2 L974.4 2343.3 L987.4 2341.5 L997.7 2338.9 L1006.4 2335.3 L1014.3 2330.3 L1020.9 2324.7 L1026.9 2318.0 L1031.7 2311.7 L1042.8 2295.6 L1048.5 2288.5 L1054.2 2283.0 L1060.1 2279.1 L1066 2276.8 L1072.6 2275.9 L1079.1 2276.0 L1093.9 2277.4 L1100.7 2277.2 L1103.6 2276.6 L1106.4 2275.7 L1109 2274.3 L1111.7 2272.2 L1114.5 2269.4 L1117 2266.1 L1121.9 2257.8 L1125.8 2248.1 L1128.7 2237.3 L1131.1 2223.0 L1135 2188.2 L1141.6 2146.0 L1145.6 2117.1 L1150.2 2075.5 L1154.4 2029.3 L1157.6 1984.3 L1164 1883.5 L1167.7 1829.7 L1172.2 1772.8 L1177.1 1719.9 L1183.4 1661.9 L1189 1619.0 L1191.9 1602.1 L1195.2 1587.1 L1197.6 1578.5 L1198.6 1576.4 L1199.5 1575.8 L1200.3 1576.2 L1201.2 1577.4 L1203.2 1582.5 L1205.5 1591.1 L1208.1 1603.5 L1211.5 1623.7 L1217.6 1667.8 L1221.4 1700.7 L1225.2 1737.4 L1236.8 1869.1 L1242 1922.1 L1248.5 1976.7 L1252.1 2001.6 L1255.9 2025.1 L1262.2 2059.5 L1270.3 2097.7 L1280 2139.8 L1297 2210.3 L1300.8 2223.4 L1304.7 2233.8 L1309.2 2243.0 L1314.6 2251.1 L1319.6 2256.9 L1323.9 2260.6 L1327.9 2262.7 L1331.8 2263.2 L1335.5 2262.8 L1340.2 2261.3 L1356.3 2253.7 L1362.6 2251.4 L1365.7 2250.7 L1368.7 2250.4 L1374.1 2251.2 L1378.5 2253.0 L1383.3 2255.7 L1403.4 2269.8 L1416.4 2278.0 L1426.9 2283.8 L1437.1 2288.5 L1454.8 2295.0 L1479 2302.5 L1500.4 2308.1 L1521.5 2312.6 L1536.6 2315.1 L1551.4 2317.0 L1565.7 2318.1 L1577.8 2318.5 L1586.3 2318.2 L1593.9 2317.4 L1601.9 2316.0 L1617.3 2312.3 L1622.1 2311.7 L1625.9 2311.8 L1630.6 2312.7 L1635.6 2314.3 L1641.3 2316.9 L1659.2 2326.0 L1665.2 2328.2 L1670.9 2329.5 L1677.6 2330.3 L1744.5 2335.9 L1763.3 2337.2 L1780 2337.7" stroke="#10B800"/>
<path d="M331 2353.5 L645.6 2353.5 L667.4 2353.3 L684.4 2352.3 L699.3 2350.3 L712.2 2347.5 L732.6 2341.6 L738.1 2340.6 L742.6 2340.3 L747.2 2340.6 L751.3 2341.5 L766.6 2347.4 L774.6 2349.7 L783.5 2351.2 L793.3 2351.9 L803.2 2352.0 L834.4 2351.1 L881.5 2351.3 L905.5 2351.0 L938.5 2349.8 L974 2347.8 L988.3 2346.2 L999.7 2343.7 L1004.9 2342.0 L1009.5 2340.1 L1013.9 2337.9 L1017.7 2335.5 L1023.3 2330.8 L1028.3 2325.1 L1032.2 2319.2 L1040.2 2305.5 L1044.8 2299.2 L1049.3 2294.6 L1054.3 2291.7 L1057.3 2290.8 L1060.5 2290.2 L1064.4 2290.1 L1068.3 2290.4 L1074.9 2291.8 L1090.1 2296.2 L1094.2 2296.9 L1098.5 2297.1 L1103.2 2296.7 L1107.4 2295.5 L1111.2 2293.7 L1114.6 2291.2 L1117.8 2287.7 L1120.4 2283.6 L1123 2278.2 L1125.4 2271.9 L1127.2 2265.9 L1128.7 2259.0 L1131.3 2241.2 L1145.8 2105.1 L1153.9 2019.2 L1158.7 1954.1 L1168.3 1799.4 L1171.5 1758.3 L1174.8 1721.5 L1182.7 1650.0 L1188.4 1586.7 L1191.5 1558.4 L1192.6 1552.6 L1194.4 1548.4 L1197.2 1545.0 L1198.7 1543.9 L1200.2 1543.5 L1201.3 1543.7 L1202.2 1544.3 L1203.9 1547.0 L1205.4 1551.5 L1207.9 1561.9 L1210.9 1576.1 L1213.6 1590.6 L1218.1 1621.4 L1221.8 1657.2 L1235.6 1819.8 L1243.6 1904.9 L1247.9 1944.4 L1252.4 1981.0 L1257.1 2015.6 L1262.1 2048.3 L1268.5 2085.6 L1275.4 2120.9 L1283 2155.4 L1291.2 2188.4 L1297.1 2210.2 L1302 2224.6 L1304.7 2231.1 L1307.5 2236.9 L1310.5 2242.1 L1313.8 2247.0 L1318.5 2252.6 L1322 2255.4 L1323.7 2255.9 L1325.3 2255.7 L1327 2254.8 L1328.6 2253.5 L1332.2 2249.2 L1336.4 2242.4 L1345.9 2225.0 L1355.6 2205.0 L1358.8 2199.6 L1361.8 2195.2 L1367.2 2189.5 L1373.3 2185.0 L1376.5 2183.4 L1379.2 2182.5 L1381.9 2182.2 L1384.1 2182.3 L1386.6 2183.1 L1389 2184.3 L1395 2189.0 L1408.2 2200.9 L1443.8 2234.7 L1455.2 2244.5 L1466.4 2253.2 L1480.6 2262.9 L1495.4 2271.6 L1510.3 2279.1 L1525.6 2285.6 L1539 2290.2 L1552.2 2293.9 L1566 2296.7 L1578.5 2298.4 L1586.4 2298.9 L1593.5 2298.7 L1601.1 2297.9 L1619.6 2294.6 L1625.1 2294.5 L1630.5 2295.1 L1637 2296.9 L1644.3 2299.9 L1667 2312.8 L1675.7 2317.1 L1685.4 2320.8 L1695.8 2323.9 L1708.7 2326.7 L1723.7 2328.8 L1779.9 2333.4" stroke="#0030FF"/>
<path d="M331 2355.4 L416.1 2355.8 L672.9 2356.1 L689.6 2355.3 L702.2 2353.8 L712.1 2351.4 L727.2 2346.2 L730.6 2345.5 L734.1 2345.2 L740.7 2345.9 L759.2 2350.2 L775.7 2353.0 L793.8 2354.9 L813.6 2355.9 L832.5 2356.2 L855.5 2355.9 L935.4 2354.2 L971.7 2352.6 L985.5 2351.3 L996.9 2349.1 L1006.8 2346.0 L1011.3 2344.0 L1015.7 2341.6 L1021.9 2337.2 L1027.6 2331.8 L1032.2 2326.3 L1041.6 2313.7 L1046.1 2308.6 L1050.5 2304.8 L1054.9 2302.6 L1059.8 2301.7 L1065.2 2302.2 L1070.9 2303.8 L1087.6 2309.7 L1092.2 2310.7 L1096.1 2311.0 L1101.3 2310.5 L1106 2308.9 L1110.7 2306.2 L1115 2302.6 L1118.9 2298.3 L1122.6 2293.0 L1125.9 2286.7 L1128.7 2280.1 L1130.8 2273.3 L1132.7 2265.3 L1134.1 2256.7 L1135.5 2245.4 L1144.2 2155.5 L1152.2 2057.7 L1159 1960.3 L1174.9 1713.6 L1180.2 1642.1 L1185.5 1578.0 L1188.7 1544.4 L1190.9 1530.2 L1193.1 1522.2 L1196 1514.8 L1198.9 1509.5 L1200.1 1508.2 L1201.1 1507.8 L1202 1508.2 L1202.9 1509.1 L1204.6 1512.8 L1207.8 1522.4 L1210.6 1532.6 L1214.7 1552.3 L1218.2 1576.0 L1224.5 1636.8 L1247.6 1875.0 L1257.4 1973.4 L1263.7 2030.2 L1270 2076.6 L1274.1 2102.7 L1278.6 2127.2 L1283.4 2150.7 L1288.6 2173.5 L1295.4 2199.1 L1302.8 2223.6 L1306.2 2232.7 L1310.2 2239.8 L1313.1 2243.4 L1315.8 2245.9 L1318.6 2247.5 L1321 2247.9 L1323.4 2247.3 L1325.9 2245.6 L1328.4 2242.7 L1330.5 2239.3 L1332.7 2234.3 L1335 2227.3 L1364.1 2120.3 L1368.5 2106.3 L1371 2100.6 L1373.9 2095.4 L1377 2090.8 L1380.1 2087.1 L1383.1 2084.3 L1386.2 2082.5 L1388.9 2081.7 L1391.7 2081.8 L1395.6 2083.4 L1399.7 2086.6 L1404.1 2091.4 L1408.9 2098.1 L1413.6 2105.7 L1418.7 2114.9 L1434.9 2147.4 L1444.2 2164.1 L1456.6 2183.7 L1463.4 2193.3 L1470.3 2202.3 L1477.5 2211.1 L1484.7 2219.3 L1492.3 2227.1 L1500.1 2234.7 L1508.2 2241.8 L1516.1 2248.3 L1524.4 2254.3 L1532.4 2259.7 L1545.1 2267.0 L1558.2 2273.2 L1571.4 2278.1 L1577.1 2279.8 L1582 2280.7 L1588.4 2281.3 L1595 2280.8 L1600.6 2279.5 L1611.5 2275.3 L1616 2273.9 L1620.5 2273.4 L1624.4 2274.1 L1629 2275.9 L1635.7 2279.9 L1660 2297.4 L1668.9 2303.2 L1677.7 2307.9 L1687.5 2311.8 L1698.6 2315.0 L1711 2317.5 L1724.3 2319.4 L1760.2 2323.6 L1770.6 2325.3 L1779.8 2327.3" stroke="#B20CF6"/>
</g>
</svg>
</body></html>
